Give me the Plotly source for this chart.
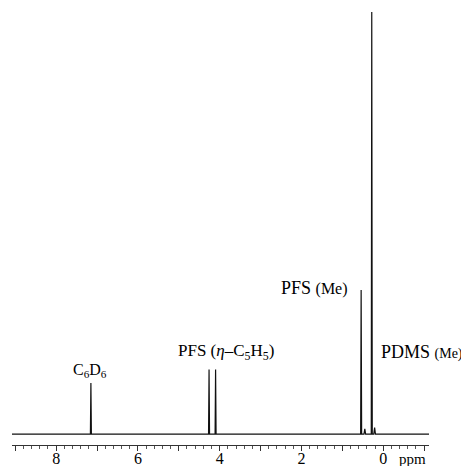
import plotly.graph_objects as go

# Peak data (ppm, relative intensity)
peak_ppm = [7.15, 4.26, 4.10, 0.54, 0.45, 0.28, 0.21]
peak_height = [0.121, 0.153, 0.153, 0.341, 0.012, 1.0, 0.015]
peak_halfwidth = [0.012, 0.012, 0.012, 0.012, 0.02, 0.012, 0.02]
range_ppm = [9.08, -1.12]

# Tick labels
tick_vals = [9, 8, 7, 6, 5, 4, 3, 2, 1, 0, -1]
tick_text = ["", "8", "", "6", "", "4", "", "2", "", "0", ""]

# Peak labels (anchor ppm, anchor intensity)
label_text = ["C<sub>6</sub>D<sub>6</sub>",
              "PFS (<i>η</i>–C<sub>5</sub>H<sub>5</sub>)",
              "PFS <span style='font-size:16px'>(Me)</span>",
              "PDMS <span style='font-size:14px'>(Me)</span>"]
label_size = [16, 17, 18, 18]
label_ppm = [7.17, 3.845, 1.69, -0.96]
label_int = [0.150, 0.194, 0.346, 0.194]

# build spectrum polyline (baseline + spikes)
pairs = []
for p, h, w in zip(peak_ppm, peak_height, peak_halfwidth):
    pairs += [(p + w, 0.0), (p, h), (p - w, 0.0)]
pairs.sort(key=lambda t: -t[0])
xs = [range_ppm[0]] + [a for a, b in pairs] + [range_ppm[1]]
ys = [0.0] + [b for a, b in pairs] + [0.0]

fig = go.Figure()
fig.add_trace(go.Scatter(x=xs, y=ys, mode="lines",
                         line=dict(color="#111111", width=1.2),
                         hoverinfo="skip", showlegend=False))

serif = "Liberation Serif, Times New Roman, serif"
for t, s, x, y in zip(label_text, label_size, label_ppm, label_int):
    fig.add_annotation(x=x, y=y, xref="x", yref="y", text=t, showarrow=False,
                       font=dict(family=serif, size=s, color="black"))
# unit label next to the axis tick labels
fig.add_annotation(x=-0.705, y=0, xref="x", yref="y", yshift=-25, text="ppm",
                   showarrow=False, font=dict(family=serif, size=15, color="black"))

fig.update_layout(
    width=461, height=458,
    margin=dict(l=4, r=40, t=2, b=21, autoexpand=False),
    paper_bgcolor="white", plot_bgcolor="white",
    xaxis=dict(range=range_ppm, showgrid=False, zeroline=False, automargin=False,
               showline=True, linecolor="#333333", linewidth=1,
               ticks="outside", ticklen=5, tickcolor="#333333",
               tickvals=tick_vals, ticktext=tick_text, ticklabelstandoff=-6,
               minor=dict(dtick=0.2, ticks="outside", ticklen=3, tickcolor="#555555"),
               tickfont=dict(family=serif, size=16, color="black")),
    yaxis=dict(range=[-0.026, 1.0047], visible=False, automargin=False),
)
fig.write_html("out.html")
